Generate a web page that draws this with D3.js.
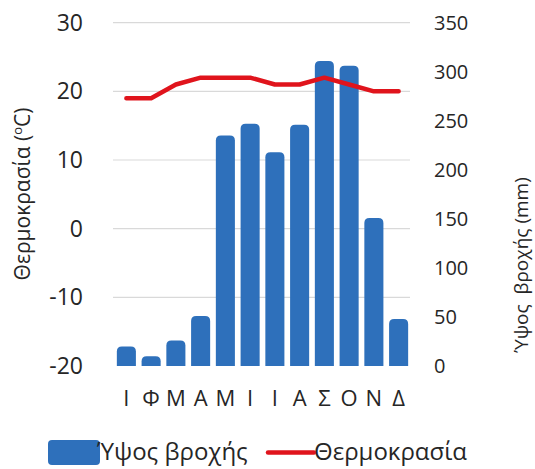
<!DOCTYPE html>
<html>
<head>
<meta charset="utf-8">
<script src="https://cdn.jsdelivr.net/npm/d3@7"></script>
<style>
  html, body { margin: 0; padding: 0; background: #fff; }
  svg { display: block; font-family: "Open Sans", "Noto Sans", sans-serif; }
</style>
</head>
<body>
<svg id="chart" width="535" height="469"></svg>
<script>
// Monthly climate data
const months = ["Ι", "Φ", "Μ", "Α", "Μ", "Ι", "Ι", "Α", "Σ", "Ο", "Ν", "Δ"];
const rainfall = [20, 10, 26, 51, 235, 247, 218, 246, 311, 306, 151, 48];   // mm
const temperature = [19, 19, 21, 22, 22, 22, 21, 21, 22, 21, 20, 20];       // °C
const tempTicks = [-20, -10, 0, 10, 20, 30];
const rainTicks = [0, 50, 100, 150, 200, 250, 300, 350];

const svg = d3.select("#chart");
const plot = { left: 114, right: 411, top: 22.7, bottom: 366 };

const x = d3.scaleBand()
  .domain(d3.range(months.length))
  .range([plot.left, plot.right])
  .paddingInner(0.23)
  .paddingOuter(0.115);

const yTemp = d3.scaleLinear().domain([-20, 30]).range([plot.bottom, plot.top]);
const yRain = d3.scaleLinear().domain([0, 350]).range([plot.bottom, plot.top]);

// Horizontal gridlines on the temperature ticks
svg.append("g")
  .selectAll("line")
  .data(tempTicks.filter(t => t > -20))
  .join("line")
  .attr("x1", plot.left - 1)
  .attr("x2", plot.right - 1)
  .attr("y1", d => yTemp(d))
  .attr("y2", d => yTemp(d))
  .attr("stroke", "#d9d9d9")
  .attr("stroke-width", 1.2);

// Rain bars with rounded top corners
function roundedTopBar(x0, y0, w, h, r) {
  r = Math.min(r, w / 2, h);
  return `M${x0},${y0 + h}` +
    `V${y0 + r}` +
    `Q${x0},${y0} ${x0 + r},${y0}` +
    `H${x0 + w - r}` +
    `Q${x0 + w},${y0} ${x0 + w},${y0 + r}` +
    `V${y0 + h}Z`;
}

svg.append("g")
  .selectAll("path")
  .data(rainfall)
  .join("path")
  .attr("fill", "#2e70bb")
  .attr("d", (d, i) => {
    const y0 = yRain(d);
    return roundedTopBar(x(i), y0, x.bandwidth(), yRain(0) - y0, 5);
  });

// Temperature line
const line = d3.line()
  .x((d, i) => x(i) + x.bandwidth() / 2)
  .y(d => yTemp(d));

svg.append("path")
  .datum(temperature)
  .attr("d", line)
  .attr("fill", "none")
  .attr("stroke", "#e0141c")
  .attr("stroke-width", 4.5)
  .attr("stroke-linejoin", "round")
  .attr("stroke-linecap", "round");

// Left axis (temperature), plain hyphen for negatives
const leftAxis = d3.axisLeft(yTemp).tickValues(tempTicks)
  .tickFormat(d => String(d)).tickSize(0).tickPadding(0);
const gl = svg.append("g").attr("transform", "translate(83,0)").call(leftAxis);
gl.select(".domain").remove();
gl.selectAll("text")
  .attr("font-family", "'Open Sans', sans-serif")
  .attr("font-size", 23)
  .attr("fill", "#262626");

// Right axis (rainfall)
const rightAxis = d3.axisRight(yRain).tickValues(rainTicks).tickSize(0).tickPadding(0);
const gr = svg.append("g").attr("transform", "translate(434,0)").call(rightAxis);
gr.select(".domain").remove();
gr.selectAll("text")
  .attr("font-family", "'Open Sans', sans-serif")
  .attr("font-size", 20)
  .attr("fill", "#262626");

// Month labels
const bottomAxis = d3.axisBottom(x).tickFormat(i => months[i]).tickSize(0).tickPadding(0);
const gb = svg.append("g").attr("transform", "translate(0,390)").call(bottomAxis);
gb.select(".domain").remove();
gb.selectAll("text")
  .attr("font-family", "'Open Sans', sans-serif")
  .attr("font-size", 22)
  .attr("fill", "#262626");

// Axis titles
const leftTitle = svg.append("text")
  .attr("transform", "translate(30,194) rotate(-90)")
  .attr("text-anchor", "middle")
  .attr("font-size", 21)
  .attr("fill", "#262626");
leftTitle.append("tspan").text("Θερμοκρασία (");
leftTitle.append("tspan").attr("font-size", 13).attr("dy", -8).text("o");
leftTitle.append("tspan").attr("dy", 8).text("C)");

svg.append("text")
  .attr("transform", "translate(528,265) rotate(-90)")
  .attr("text-anchor", "middle")
  .attr("font-size", 19)
  .attr("fill", "#262626")
  .attr("xml:space", "preserve")
  .style("white-space", "pre")
  .text("Ύψος  βροχής (mm)");

// Legend
const legend = svg.append("g");
legend.append("rect")
  .attr("x", 48).attr("y", 440)
  .attr("width", 52).attr("height", 25)
  .attr("rx", 4)
  .attr("fill", "#2e70bb");
legend.append("text")
  .attr("x", 97).attr("y", 460)
  .attr("font-size", 24)
  .attr("fill", "#262626")
  .text("Ύψος βροχής");
legend.append("line")
  .attr("x1", 268).attr("x2", 314)
  .attr("y1", 452.5).attr("y2", 452.5)
  .attr("stroke", "#e0141c")
  .attr("stroke-width", 4.5)
  .attr("stroke-linecap", "round");
legend.append("text")
  .attr("x", 314).attr("y", 460)
  .attr("font-size", 24)
  .attr("fill", "#262626")
  .text("Θερμοκρασία");
</script>
</body>
</html>
